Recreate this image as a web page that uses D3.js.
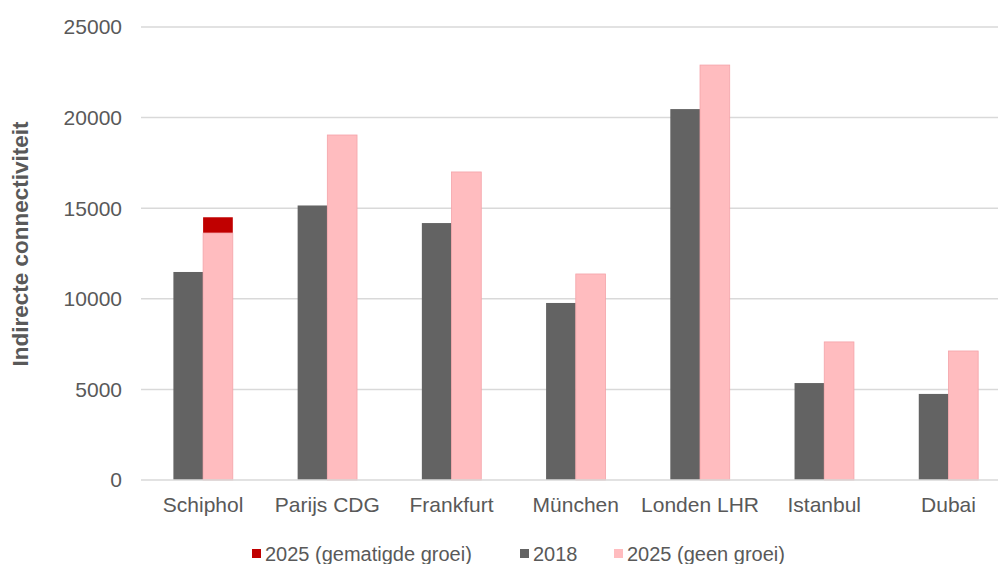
<!DOCTYPE html>
<html>
<head>
<meta charset="utf-8">
<script src="https://cdn.jsdelivr.net/npm/d3@7"></script>
<style>
  body { margin: 0; background: #ffffff; }
  svg { display: block; font-family: 'Liberation Sans', Arial, sans-serif; }
</style>
</head>
<body>
<svg id="chart" width="998" height="564"></svg>
<script>
// data
var airports = ['Schiphol', 'Parijs CDG', 'Frankfurt', 'München', 'Londen LHR', 'Istanbul', 'Dubai'];
var values2018 = [11480, 15150, 14180, 9770, 20470, 5350, 4750];
var values2025geen = [13630, 19040, 17000, 11370, 22900, 7620, 7120];
// only Schiphol has a moderate-growth scenario, stacked on top of the no-growth bar
var values2025gematigd = [14500, null, null, null, null, null, null];
var yTicks = [0, 5000, 10000, 15000, 20000, 25000];
var legendItems = [
  { label: '2025 (gematigde groei)', color: '#c00000' },
  { label: '2018', color: '#636363' },
  { label: '2025 (geen groei)', color: '#ffbcbf' }
];

var svg = d3.select('#chart');
var width = +svg.attr('width');
var textColor = '#595959';

var x0 = d3.scaleBand()
  .domain(airports)
  .range([141, 1010.6])
  .padding(0);

var x1 = d3.scaleBand()
  .domain(['2018', '2025'])
  .range([32.4, 91.8])
  .padding(0);

var y = d3.scaleLinear()
  .domain([0, 25000])
  .range([480, 27]);

// gridlines
svg.selectAll('.grid')
  .data(yTicks.slice(1))
  .enter()
  .append('line')
  .attr('class', 'grid')
  .attr('x1', 141)
  .attr('x2', width)
  .attr('y1', function(d) { return y(d); })
  .attr('y2', function(d) { return y(d); })
  .attr('stroke', '#d9d9d9')
  .attr('stroke-width', 1.5);

// y tick labels
svg.selectAll('.y-label')
  .data(yTicks)
  .enter()
  .append('text')
  .attr('class', 'y-label')
  .attr('x', 122)
  .attr('y', function(d) { return y(d); })
  .attr('dy', '0.35em')
  .style('text-anchor', 'end')
  .style('font-size', '21px')
  .style('fill', textColor)
  .text(function(d) { return d; });

var groups = svg.selectAll('.airport')
  .data(airports)
  .enter()
  .append('g')
  .attr('class', 'airport')
  .attr('transform', function(d) {
    return 'translate(' + x0(d) + ',0)';
  });

groups.append('rect')
  .attr('x', x1('2018'))
  .attr('width', x1.bandwidth())
  .attr('y', function(d, i) { return y(values2018[i]); })
  .attr('height', function(d, i) { return y(0) - y(values2018[i]); })
  .style('fill', '#636363');

groups.filter(function(d, i) { return values2025gematigd[i] != null; })
  .append('rect')
  .attr('x', x1('2025'))
  .attr('width', x1.bandwidth())
  .attr('y', function(d) {
    var i = airports.indexOf(d);
    return y(values2025gematigd[i]);
  })
  .attr('height', function(d) {
    var i = airports.indexOf(d);
    return y(values2025geen[i]) - y(values2025gematigd[i]);
  })
  .style('fill', '#c00000');

groups.append('rect')
  .attr('x', x1('2025'))
  .attr('width', x1.bandwidth())
  .attr('y', function(d, i) { return y(values2025geen[i]); })
  .attr('height', function(d, i) { return y(0) - y(values2025geen[i]); })
  .style('fill', '#ffbcbf')
  .style('stroke', '#f4a3a9')
  .style('stroke-width', 0.8);

// x axis baseline
svg.append('line')
  .attr('x1', 141)
  .attr('x2', width)
  .attr('y1', y(0))
  .attr('y2', y(0))
  .attr('stroke', '#d9d9d9')
  .attr('stroke-width', 1.5);

svg.selectAll('.x-label')
  .data(airports)
  .enter()
  .append('text')
  .attr('class', 'x-label')
  .attr('x', function(d) { return x0(d) + x0.bandwidth() / 2; })
  .attr('y', 505)
  .attr('dy', '0.35em')
  .style('text-anchor', 'middle')
  .style('font-size', '21px')
  .style('fill', textColor)
  .text(function(d) { return d; });

// axis title
svg.append('text')
  .attr('transform', 'translate(28,' + 244 + ') rotate(-90)')
  .style('text-anchor', 'middle')
  .style('font-size', '22.5px')
  .style('font-weight', 'bold')
  .style('fill', textColor)
  .text('Indirecte connectiviteit');

// legend
var legendX = [252, 520, 614];
var legend = svg.selectAll('.legend')
  .data(legendItems)
  .enter()
  .append('g')
  .attr('class', 'legend')
  .attr('transform', function(d, i) {
    return 'translate(' + legendX[i] + ',553.5)';
  });

legend.append('rect')
  .attr('x', 0)
  .attr('y', -4.5)
  .attr('width', 9)
  .attr('height', 9)
  .style('fill', function(d) { return d.color; });

legend.append('text')
  .attr('x', 13)
  .attr('y', 0)
  .attr('dy', '0.35em')
  .style('font-size', '20px')
  .style('fill', textColor)
  .text(function(d) { return d.label; });
</script>
</body>
</html>
